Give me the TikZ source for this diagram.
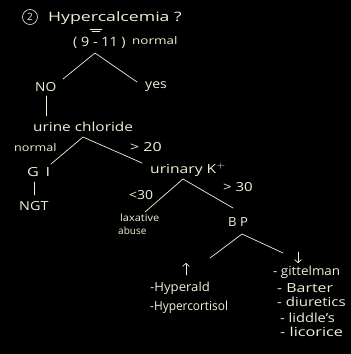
\documentclass[tikz,border=0pt]{standalone}
\usepackage{fontspec}
\setmainfont{Open Sans}
\usetikzlibrary{arrows.meta}
\definecolor{chalk}{HTML}{F2EFD8}
% horizontal stretch of a piece of text
\newcommand{\sx}[2]{\scalebox{#1}[1]{#2}}
\begin{document}
\begin{tikzpicture}[x=1pt,y=-1pt,
  lbl/.style={text=chalk, inner sep=0pt, font=\fontsize{12.5}{14}\selectfont},
  tiny/.style={lbl, font=\fontsize{10.5}{12}\selectfont},
  small/.style={lbl, font=\fontsize{10}{11}\selectfont},
  big/.style={lbl, font=\fontsize{13}{15}\selectfont},
  branch/.style={draw=chalk, line width=0.7pt, line cap=round},
  tip/.style={draw=chalk, line width=0.7pt, line cap=round, -{Straight Barb[length=3pt,width=7pt]}}]
\fill[black] (0,0) rectangle (351,354);
\useasboundingbox (0,0) rectangle (351,354);

% heading
\node[lbl, circle, draw=chalk, line width=0.6pt, inner sep=0pt, minimum size=15pt, font=\fontsize{10}{11}\selectfont] (num) at (30,17) {2};
\node[big, anchor=west] (title) at (48,18) {\sx{1.36}{Hypercalcemia ?}};
\draw[branch] (90,29) -- (102,29);
\draw[branch] (92,31.5) -- (100,31.5);
\node[big, anchor=west] (range) at (73,43) {\sx{1.1}{( 9 - 11 )}};
\node[tiny, anchor=west] (rnorm) at (132,41) {\sx{1.28}{normal}};

% first split
\coordinate (a1) at (95,53);
\coordinate (a1l) at (63,79);
\coordinate (a1r) at (137,82);
\draw[branch] (a1l) -- (a1) -- (a1r);
\node[lbl, anchor=west] (no) at (35,87) {\sx{1.1}{NO}};
\node[lbl, anchor=west] (yes) at (145,87) {\sx{1.12}{yes}};
\coordinate (v0) at (46,96);
\coordinate (v1) at (46,116);
\draw[branch] (v0) -- (v1);

% urine chloride
\node[lbl, anchor=west] (ucl) at (33,127) {\sx{1.23}{urine chloride}};
\coordinate (a2) at (83,137);
\coordinate (a2l) at (51,164);
\coordinate (a2r) at (142,163);
\draw[branch] (a2l) -- (a2) -- (a2r);
\node[tiny, anchor=west] (cnorm) at (14,148) {\sx{1.2}{normal}};
\node[lbl, anchor=west] (gt20) at (130,147) {\sx{1.28}{> 20}};
\node[lbl, anchor=west] (gi) at (27,172) {\sx{1.3}{G\hspace{5pt}I}};
\coordinate (g0) at (34,182);
\coordinate (g1) at (34,195);
\draw[branch] (g0) -- (g1);
\node[lbl, anchor=west] (ngt) at (19,206) {\sx{1.15}{NGT}};

% urinary potassium
\node[lbl, anchor=west] (uk) at (150,170) {\sx{1.25}{urinary K$^{+}$}};
\coordinate (a3) at (183,179);
\coordinate (a3l) at (145,212);
\coordinate (a3r) at (233,208);
\draw[branch] (a3l) -- (a3) -- (a3r);
\node[lbl, anchor=west] (lt30) at (129,195) {\sx{1.12}{<30}};
\node[lbl, anchor=west] (gt30) at (223,187) {\sx{1.2}{> 30}};
\node[small, anchor=west] (lax) at (120,218) {\sx{1.1}{laxative}};
\node[small, anchor=west] (abuse) at (118,231) {abuse};
\node[lbl, anchor=west] (bp) at (228,222) {\sx{1.05}{B P}};

% blood pressure
\coordinate (a4) at (242,234);
\coordinate (a4l) at (210,258);
\coordinate (a4r) at (283,253);
\draw[branch] (a4l) -- (a4) -- (a4r);
\coordinate (upb) at (186,275);
\coordinate (upt) at (186,263);
\draw[tip] (upb) -- (upt);
\coordinate (dnt) at (298,252);
\coordinate (dnb) at (298,263);
\draw[tip] (dnt) -- (dnb);

\node[lbl, anchor=west] (hald) at (150,288) {\sx{1.05}{-Hyperald}};
\node[lbl, anchor=west] (hcort) at (150,307) {\sx{0.95}{-Hypercortisol}};
\node[lbl, anchor=west] (git) at (273,272) {\sx{1.07}{- gittelman}};
\node[lbl, anchor=west] (bart) at (277,288) {\sx{1.27}{- Barter}};
\node[lbl, anchor=west] (diur) at (277,302) {\sx{1.2}{- diuretics}};
\node[lbl, anchor=west] (lidd) at (280,318) {\sx{1.17}{- liddle's}};
\node[lbl, anchor=west] (lico) at (280,332) {\sx{1.3}{- licorice}};
\end{tikzpicture}
\end{document}
